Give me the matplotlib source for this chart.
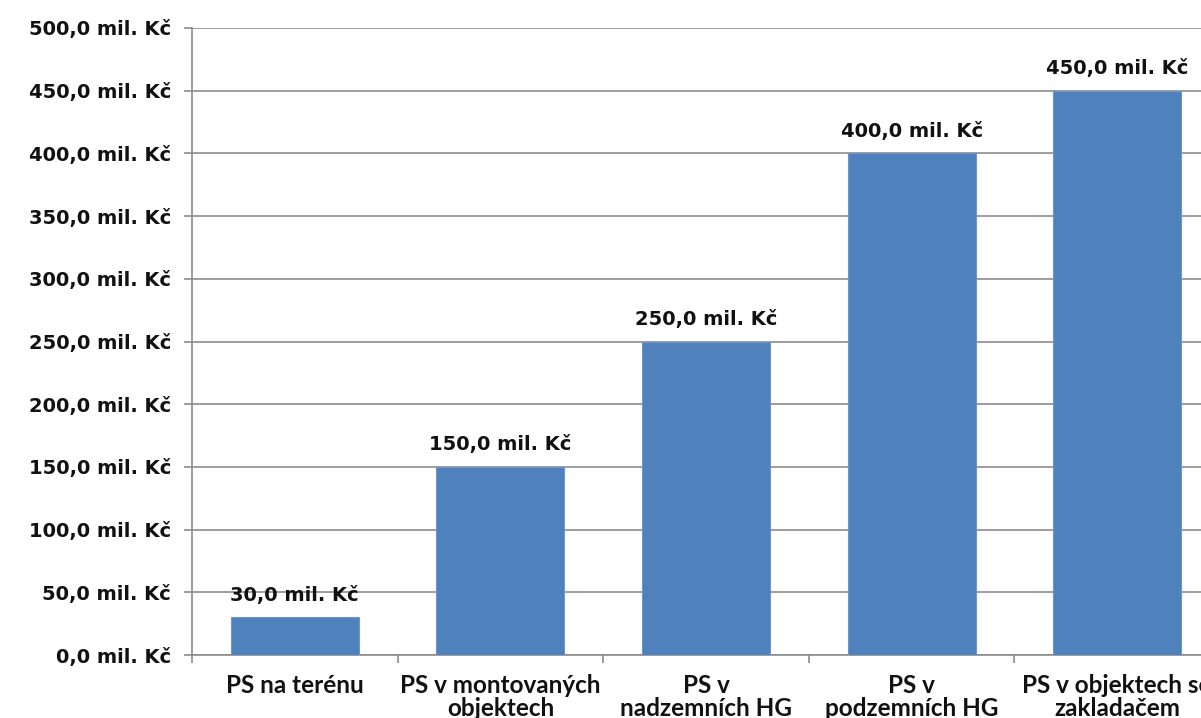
import matplotlib.pyplot as plt
import numpy as np

# data
categories = ['PS na terénu', 'PS v montovaných\nobjektech', 'PS v\nnadzemních HG',
              'PS v\npodzemních HG', 'PS v objektech se\nzakladačem']
values = [30.0, 150.0, 250.0, 400.0, 450.0]
yticks = np.arange(0, 501, 50)

def fmt(v):
    return f'{v:.1f}'.replace('.', ',') + ' mil. Kč'

fig = plt.figure(figsize=(12.01, 7.18), dpi=100)
# axes extends past the right edge, as in the cropped original
ax = fig.add_axes([192 / 1201, 1 - 655 / 718, 1028 / 1201, 627 / 718])

x = np.arange(len(values))
bars = ax.bar(x, values, width=0.623, color='#4F81BD', edgecolor='#6E96C9',
              linewidth=0.8, zorder=3)

for xi, v in zip(x, values):
    ax.annotate(fmt(v), (xi, v), xytext=(0, 9), textcoords='offset points',
                ha='center', va='bottom', fontsize=14, fontweight='bold',
                family='DejaVu Sans', color='#111111', zorder=4)

ax.set_xlim(-0.5, len(values) - 0.5)
ax.set_ylim(0, 500)
ax.set_yticks(yticks)
ax.set_yticklabels([fmt(t) for t in yticks], fontsize=14, fontweight='bold',
                   family='DejaVu Sans', color='#111111')
ax.yaxis.grid(True, color='#8c8c8c', linewidth=1.2, zorder=0)

ax.set_xticks(np.arange(-0.5, len(values) + 0.5, 1), minor=False)
ax.set_xticklabels([])
ax.set_xticks(x, minor=True)
ax.set_xticklabels(categories, minor=True, fontsize=17.5, fontweight='bold',
                   family='Lato', color='#111111', linespacing=1.0)
ax.tick_params(axis='x', which='minor', length=0, pad=14)
ax.tick_params(axis='x', which='major', length=6, color='#8c8c8c', width=1.2)
ax.tick_params(axis='y', length=6, color='#8c8c8c', width=1.2, pad=9)

for s in ['top', 'right']:
    ax.spines[s].set_visible(False)
for s in ['left', 'bottom']:
    ax.spines[s].set_color('#8c8c8c')
    ax.spines[s].set_linewidth(1.2)

fig.savefig('out.png', dpi=100)
